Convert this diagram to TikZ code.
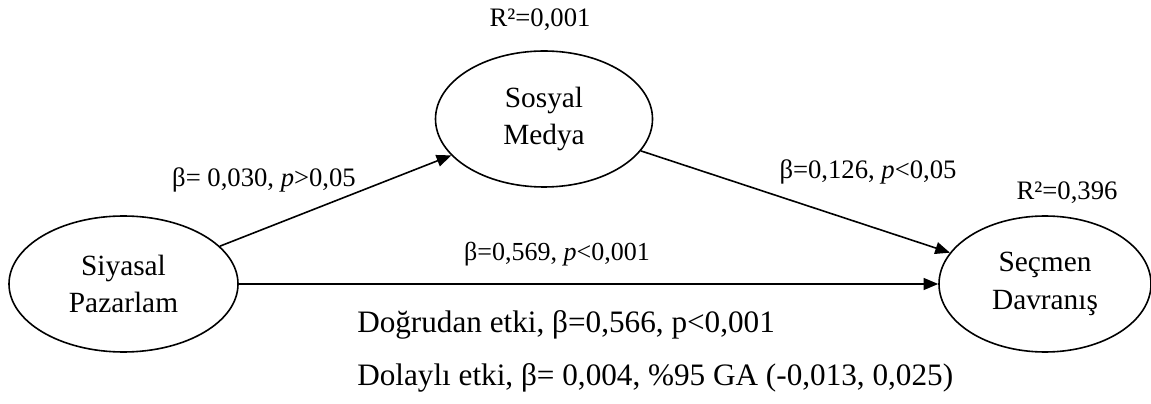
\documentclass[tikz,border=0pt]{standalone}
\usepackage{fontspec}
\setmainfont{Liberation Serif}
\usetikzlibrary{arrows.meta,shapes.geometric}

\begin{document}
\begin{tikzpicture}[x=0.75pt,y=0.75pt,
    latent/.style={draw,ellipse,line width=1.2pt,inner sep=0pt,align=center,
        font=\fontsize{22}{28}\selectfont},
    link/.style={-{Triangle[length=11pt,width=9pt]},line width=1.2pt},
    coef/.style={font=\fontsize{20}{24}\selectfont},
    effect/.style={anchor=west,inner sep=0pt,font=\fontsize{23.4}{28}\selectfont}]
    % Frame
    \useasboundingbox (0,0) rectangle (1151,403);
    % Variables
    \node[latent,minimum width=171.75pt,minimum height=102pt] (siyasal) at (123.5,119) {Siyasal\\Pazarlam};
    \node[latent,minimum width=162.75pt,minimum height=102pt] (sosyal) at (544,284) {Sosyal\\Medya};
    \node[latent,minimum width=159pt,minimum height=102pt] (secmen) at (1045,119) {Seçmen\\Davranış};
    % Paths
    \draw[link] (siyasal) -- (sosyal);
    \draw[link] (sosyal) -- (secmen);
    \draw[link] (siyasal) -- (secmen);
    % Coefficients
    \node[coef] (r1) at (540,383) {R²=0,001};
    \node[coef] (r2) at (1067,210) {R²=0,396};
    \node[coef] (b1) at (264,223) {β= 0,030, \textit{p}>0,05};
    \node[coef] (b2) at (868,231) {β=0,126, \textit{p}<0,05};
    \node[coef,font=\fontsize{19.5}{23}\selectfont] (b3) at (557,149) {β=0,569, \textit{p}<0,001};
    % Effects
    \node[effect] (direct) at (357,78) {Doğrudan etki, β=0,566, p<0,001};
    \node[effect] (indirect) at (357,25) {Dolaylı etki, β= 0,004, \%95 GA (-0,013, 0,025)};
\end{tikzpicture}
\end{document}
